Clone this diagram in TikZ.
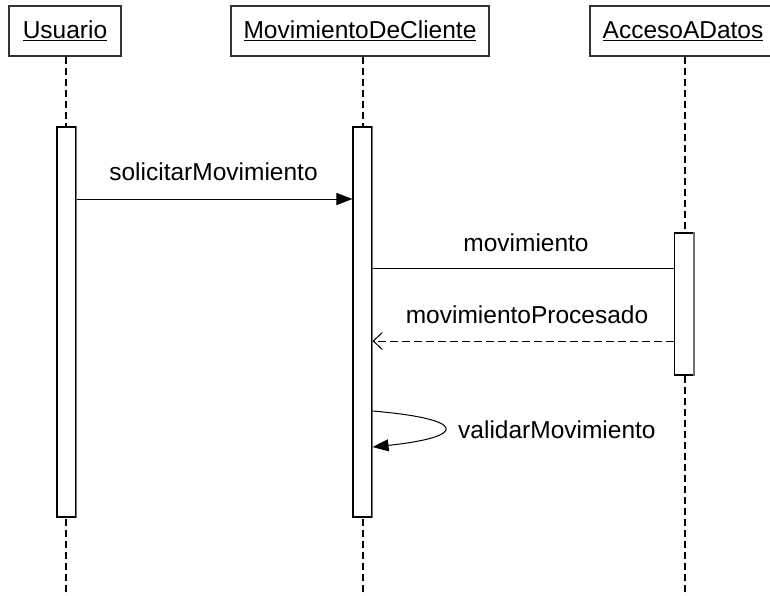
\documentclass[tikz,border=0pt]{standalone}
\usepackage{fontspec}
\setmainfont{Liberation Sans}
\usetikzlibrary{arrows.meta}
\begin{document}
\begin{tikzpicture}[x=1pt,y=-1pt,
  font=\fontsize{24.5}{29}\selectfont,
  head/.style={draw=black!80, line width=1.2pt, fill=white, minimum height=50pt, inner sep=0pt},
  life/.style={line width=1.8pt, dash pattern=on 7pt off 4pt},
  act/.style={draw=black, fill=white, line width=1.1pt, minimum width=19pt, inner sep=0pt},
  actedge/.style={draw=black!55, line width=1.4pt},
  msg/.style={line width=1pt},
  fulltip/.style={-{Triangle[length=16pt,width=12pt]}},
  opentip/.style={-{Straight Barb[length=9pt,width=17pt,line width=1pt]}},
  lbl/.style={inner sep=0pt}
]
\useasboundingbox (0,0) rectangle (770,595);
% heads
\node[head, minimum width=112pt] (u) at (65,31) {\underline{Usuario}};
\node[head, minimum width=258pt] (m) at (360,31) {\underline{MovimientoDeCliente}};
\node[head, minimum width=186pt] (d) at (683,31) {\underline{AccesoADatos}};
% lifeline ends
\coordinate (ue) at (66,596);
\coordinate (me) at (363,596);
\coordinate (de) at (685,596);
\draw[life] (u.south -| ue) -- (ue);
\draw[life] (m.south -| me) -- (me);
\draw[life] (d.south -| de) -- (de);
% activations
\node[act, minimum height=390pt] (ua) at (66.5,322) {};
\node[act, minimum height=390pt] (ma) at (362.5,322) {};
\node[act, minimum height=142pt] (da) at (684,304) {};
\draw[actedge] (ua.north east) -- (ua.south east);
\draw[actedge] (ma.north east) -- (ma.south east);
\draw[actedge] (da.north east) -- (da.south east);
% messages
\draw[msg, fulltip] (ua.east |- 0,199) -- (ma.west |- 0,199);
\node[lbl] (l1) at (213.5,172) {solicitarMovimiento};
\draw[msg] (ma.east |- 0,268) -- (da.west |- 0,268);
\node[lbl] (l2) at (526,243) {movimiento};
\draw[msg, dashed, dash pattern=on 8pt off 4pt, opentip] (da.west |- 0,341) -- (ma.east |- 0,341);
\node[lbl] (l3) at (527,315) {movimientoProcesado};
\draw[msg, fulltip] (ma.east |- 0,411) .. controls (468,419) and (468,437) .. (ma.east |- 0,447);
\node[lbl, anchor=west] (l4) at (458,430) {validarMovimiento};
\end{tikzpicture}
\end{document}
